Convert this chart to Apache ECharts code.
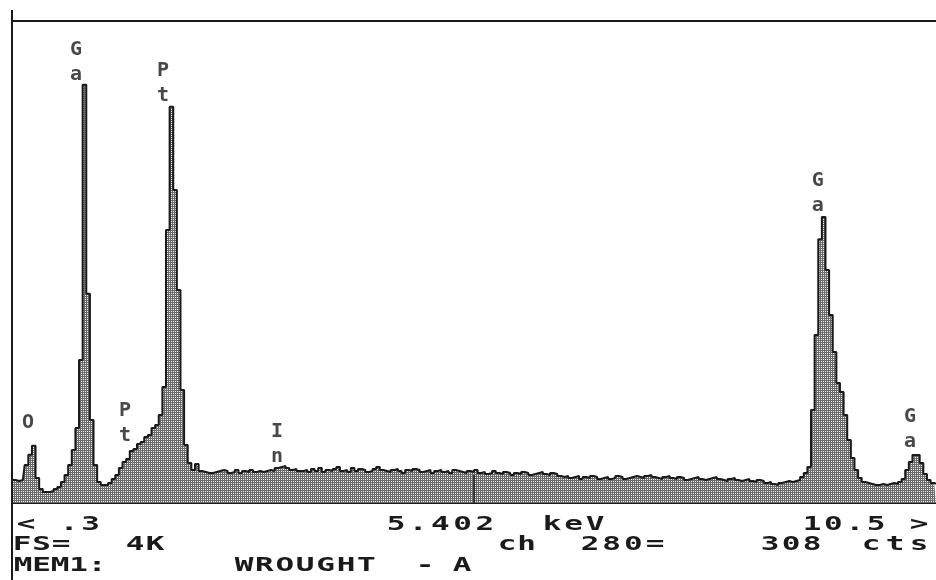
<!DOCTYPE html>
<html>
<head>
<meta charset="utf-8">
<script src="https://cdn.jsdelivr.net/npm/echarts@6/dist/echarts.min.js"></script>
<style>
html,body{margin:0;padding:0;background:#fff;}
#chart{width:936px;height:580px;}
</style>
</head>
<body>
<div id="chart"></div>
<script>
// Spectrum: channel energies start at 0.30 keV, 0.04 keV per channel
const startKeV = 0.30;
const channelWidthKeV = 0.04;
const counts = [
  253, 253, 242, 253, 418, 530, 630, 275, 154, 121,
  121, 132, 154, 176, 231, 308, 418, 583, 825, 1573,
  4598, 2300, 913, 418, 231, 198, 198, 220, 264, 308,
  385, 451, 484, 572, 594, 649, 671, 726, 748, 825,
  858, 968, 1276, 3003, 4356, 3443, 2343, 1243, 638, 440,
  363, 429, 352, 341, 330, 330, 341, 352, 363, 352,
  330, 341, 363, 330, 352, 341, 363, 341, 352, 341,
  352, 363, 352, 385, 396, 407, 385, 363, 374, 352,
  352, 363, 341, 374, 352, 385, 341, 363, 352, 374,
  396, 352, 363, 341, 385, 352, 374, 363, 341, 352,
  374, 396, 363, 352, 341, 363, 374, 352, 330, 363,
  352, 374, 363, 341, 352, 363, 330, 352, 363, 341,
  352, 330, 363, 352, 341, 330, 352, 341, 363, 330,
  341, 319, 330, 352, 330, 319, 341, 330, 308, 330,
  319, 341, 330, 308, 319, 330, 341, 319, 308, 330,
  319, 297, 286, 297, 275, 286, 297, 264, 286, 275,
  297, 286, 264, 275, 286, 264, 275, 297, 286, 264,
  275, 286, 297, 286, 275, 297, 308, 286, 275, 264,
  286, 297, 275, 264, 286, 275, 253, 264, 275, 286,
  264, 253, 264, 275, 286, 264, 253, 242, 264, 275,
  253, 242, 253, 264, 242, 231, 253, 242, 220, 231,
  209, 198, 220, 231, 242, 231, 242, 253, 286, 330,
  396, 1023, 1848, 2900, 3146, 2563, 2068, 1661, 1320, 1221,
  968, 693, 495, 363, 275, 231, 220, 209, 198, 198,
  209, 198, 209, 220, 209, 231, 264, 363, 451, 528,
  528, 440, 319, 253, 220, 209
];

// Peak identification labels
const peakLabels = ['O', 'G\na', 'P\nt', 'P\nt', 'I\nn', 'G\na', 'G\na'];
const peakLabelKeV = [0.477, 1.006, 1.967, 1.547, 3.225, 9.196, 10.212];
const peakLabelCounts = [880, 4850, 4620, 880, 650, 3400, 810];

// Axis range and cursor readout
const axisMinKeV = 0.3;
const axisMaxKeV = 10.5;
const fullScaleCounts = 5300;
const cursorKeV = 5.402;
const cursorCounts = 308;

// Footer readout text
const footerRow1 = ['< .3', '5.402', 'keV', '10.5 >'];
const footerRow2 = ['FS=', '4K', 'ch', '280=', '308', 'cts'];
const footerRow3 = ['MEM1:', 'WROUGHT', '-', 'A'];

const spectrum = counts.map((c, i) => [+(startKeV + channelWidthKeV * i).toFixed(2), c]);
const labelData = peakLabels.map((t, i) => ({value: [peakLabelKeV[i], peakLabelCounts[i]], name: t}));

// hatch pattern for the fill
const pc = document.createElement('canvas');
pc.width = 2; pc.height = 2;
const pctx = pc.getContext('2d');
pctx.fillStyle = '#6a6a6a'; pctx.fillRect(0, 0, 2, 2);
pctx.fillStyle = '#eeeeee'; pctx.fillRect(1, 1, 1, 1);

const chart = echarts.init(document.getElementById('chart'), null, {renderer: 'canvas'});

const monoFont = '"DejaVu Sans Mono", "Liberation Mono", monospace';
// per-character placement on the readout's character grid
function footText(txt, firstCenter, pitch, y) {
  const els = [];
  for (let k = 0; k < txt.length; k++) {
    const ch = txt[k];
    if (ch === ' ') continue;
    els.push({
      type: 'text', x: firstCenter + k * pitch, y: y, scaleX: 1.55, scaleY: 1,
      style: {text: ch, font: 'bold 20px ' + monoFont, fill: '#1a1a1a', verticalAlign: 'middle', align: 'center'},
      z: 10
    });
  }
  return els;
}

const r1 = 525, r2 = 545, r3 = 566;
const footer = [].concat(
  footText(footerRow1[0], 26, 21.5, r1),
  footText(footerRow1[1], 396, 22.2, r1),
  footText(footerRow1[2], 552, 21.5, r1),
  footText(footerRow1[3], 812, 21.4, r1),
  footText(footerRow2[0], 22, 19.5, r2),
  footText(footerRow2[1], 135, 20, r2),
  footText(footerRow2[2], 507, 19.5, r2),
  footText(footerRow2[3], 590, 21.7, r2),
  footText(footerRow2[4], 770, 21, r2),
  footText(footerRow2[5], 871, 24, r2),
  footText(footerRow3[0], 23, 18.5, r3),
  footText(footerRow3[1], 244, 20.4, r3),
  footText(footerRow3[2], 425, 20, r3),
  footText(footerRow3[3], 462, 20, r3)
);

chart.setOption({
  animation: false,
  backgroundColor: '#ffffff',
  grid: {left: 12, right: 0, top: 21, bottom: 77, containLabel: false},
  xAxis: {
    type: 'value', min: axisMinKeV, max: axisMaxKeV,
    axisLine: {show: true, onZero: false, lineStyle: {color: '#1a1a1a', width: 2}},
    axisTick: {show: false}, axisLabel: {show: false}, splitLine: {show: false}
  },
  yAxis: {
    type: 'value', min: 0, max: fullScaleCounts,
    axisLine: {show: false}, axisTick: {show: false}, axisLabel: {show: false}, splitLine: {show: false}
  },
  series: [
    {
      type: 'line', data: spectrum, step: 'middle', symbol: 'none',
      lineStyle: {color: '#1a1a1a', width: 2},
      areaStyle: {color: {image: pc, repeat: 'repeat'}, opacity: 1},
      markLine: {
        silent: true, symbol: 'none', label: {show: false},
        lineStyle: {color: '#1a1a1a', width: 1.5, type: 'solid'},
        data: [[{coord: [cursorKeV, 0]}, {coord: [cursorKeV, cursorCounts]}]]
      },
      z: 2
    },
    {
      type: 'scatter', data: labelData, symbolSize: 0,
      label: {
        show: true, position: 'inside', formatter: p => p.name,
        fontFamily: monoFont, fontSize: 20, fontWeight: 'bold', lineHeight: 25, color: '#1a1a1a'
      },
      z: 5
    }
  ],
  graphic: [
    {type: 'line', shape: {x1: 12, y1: 10, x2: 12, y2: 580}, style: {stroke: '#1a1a1a', lineWidth: 2}, z: 10},
    {type: 'line', shape: {x1: 12, y1: 21, x2: 936, y2: 21}, style: {stroke: '#1a1a1a', lineWidth: 2}, z: 10}
  ].concat(footer)
});
</script>
</body>
</html>
